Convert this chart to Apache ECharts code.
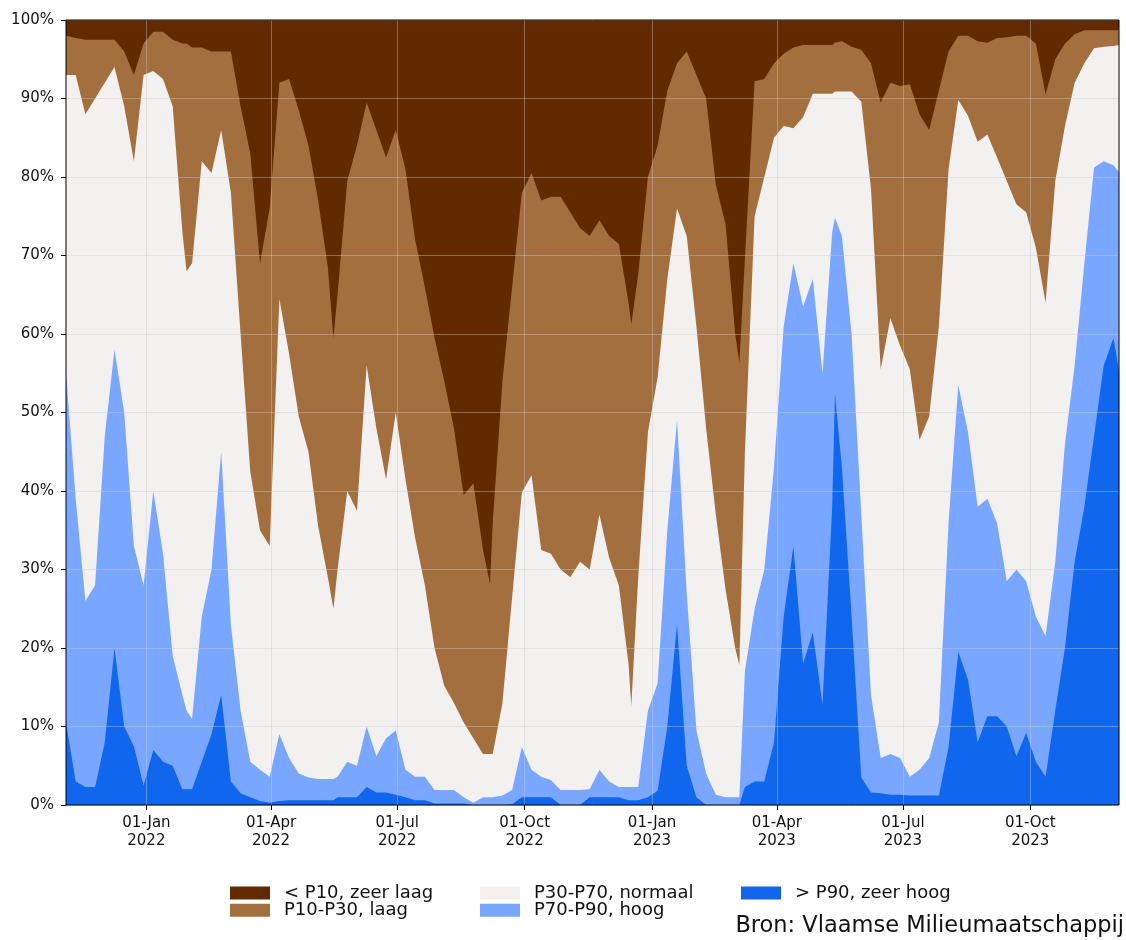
<!DOCTYPE html>
<html>
<head>
<meta charset="utf-8">
<title>Grondwaterstand – klassen</title>
<script src="https://cdn.jsdelivr.net/npm/echarts@6/dist/echarts.min.js"></script>
<style>
  html, body { margin: 0; padding: 0; background: #ffffff; }
  #chart { width: 1126px; height: 940px; }
</style>
</head>
<body>
<div id="chart"></div>
<script>
// Sample dates: weekly, with a few extra days at sharp turning points.
const sampleDates = [
  '2021-11-04', '2021-11-11', '2021-11-18', '2021-11-25', '2021-12-02', '2021-12-09', '2021-12-16', '2021-12-23', '2021-12-30', '2022-01-06',
  '2022-01-13', '2022-01-20', '2022-01-27', '2022-01-30', '2022-02-03', '2022-02-10', '2022-02-17', '2022-02-24', '2022-03-03', '2022-03-10', '2022-03-17',
  '2022-03-24', '2022-03-31', '2022-04-07', '2022-04-14', '2022-04-21', '2022-04-28', '2022-05-05', '2022-05-12', '2022-05-16', '2022-05-19', '2022-05-26',
  '2022-06-02', '2022-06-09', '2022-06-16', '2022-06-23', '2022-06-30', '2022-07-07', '2022-07-14', '2022-07-21', '2022-07-28', '2022-08-04',
  '2022-08-11', '2022-08-18', '2022-08-25', '2022-09-01', '2022-09-06', '2022-09-08', '2022-09-15', '2022-09-22', '2022-09-29', '2022-10-06', '2022-10-13',
  '2022-10-20', '2022-10-27', '2022-11-03', '2022-11-10', '2022-11-17', '2022-11-24', '2022-12-01', '2022-12-08', '2022-12-15', '2022-12-17', '2022-12-22',
  '2022-12-29', '2023-01-05', '2023-01-12', '2023-01-19', '2023-01-26', '2023-02-02', '2023-02-09', '2023-02-16', '2023-02-23', '2023-03-02', '2023-03-05',
  '2023-03-09', '2023-03-16', '2023-03-23', '2023-03-30', '2023-04-06', '2023-04-13', '2023-04-20', '2023-04-27', '2023-05-04', '2023-05-11', '2023-05-13',
  '2023-05-18', '2023-05-25', '2023-06-01', '2023-06-08', '2023-06-15', '2023-06-22', '2023-06-29', '2023-07-06', '2023-07-13', '2023-07-20',
  '2023-07-27', '2023-08-03', '2023-08-10', '2023-08-17', '2023-08-24', '2023-08-31', '2023-09-07', '2023-09-14', '2023-09-21', '2023-09-28',
  '2023-10-05', '2023-10-12', '2023-10-19', '2023-10-26', '2023-11-02', '2023-11-09', '2023-11-16', '2023-11-23', '2023-11-30', '2023-12-04'
];

// Cumulative share of the measuring points (%) up to the top of each class.
// Top of "> P90, zeer hoog"
const zeerHoogTop = [
  10.5, 3, 2.3, 2.3, 8, 20, 10, 7.5, 2.5, 7,
  5.5, 5, 2, 2, 2, 5.5, 9, 14, 3, 1.5, 1,
  0.5, 0.3, 0.5, 0.6, 0.6, 0.6, 0.6, 0.6, 0.6, 1, 1,
  1, 2.3, 1.6, 1.6, 1.3, 1, 0.6, 0.6, 0.2, 0.2,
  0.2, 0.2, 0, 0, 0, 0, 0, 0.1, 1, 1, 1,
  1, 0, 0, 0, 1, 1, 1, 1, 0.6, 0.6, 0.6,
  1, 1.8, 10, 23, 5, 1, 0, 0, 0, 0, 0,
  2.3, 3, 3, 8, 24, 33, 18, 22, 12.8, 38, 52.4,
  43, 24, 3.5, 1.6, 1.5, 1.3, 1.3, 1.2, 1.2, 1.2,
  1.2, 7.4, 19.5, 16, 8, 11.3, 11.3, 10, 6.2, 9.2,
  5.5, 3.6, 12, 20, 31, 38, 47, 56, 59.5, 55.3
];
// Top of "P70-P90, hoog"
const hoogTop = [
  55, 39, 26, 28, 47, 58, 50, 33, 28, 40,
  32, 19, 14, 12, 11, 24, 30, 45, 23, 12, 5.5,
  4.5, 3.6, 9, 6, 4, 3.5, 3.3, 3.3, 3.3, 3.6, 5.5,
  5, 10, 6.2, 8.5, 9.5, 4.5, 3.6, 3.6, 1.9, 1.9,
  1.9, 1, 0.3, 1, 1, 1, 1.2, 1.9, 7.4, 4.5, 3.6,
  3.2, 1.9, 1.9, 1.9, 2, 4.5, 3, 2.3, 2.3, 2.3, 2.3,
  12, 15.5, 35, 49, 27, 9.5, 4, 1.3, 1, 1, 1,
  17, 25, 30, 43, 61, 69, 63.5, 67, 55, 73, 74.8,
  72.5, 60, 37, 14, 6, 6.5, 6, 3.6, 4.5, 6,
  10.5, 36, 53.5, 47.5, 38, 39, 35.9, 28.5, 30, 28.5,
  24, 21.5, 31, 46, 56, 69, 81.2, 82, 81.5, 80.6
];
// Top of "P30-P70, normaal"
const normaalTop = [
  93, 93, 88, 90, 92, 94, 89, 82, 93, 93.5,
  92.5, 89, 73, 68, 69, 82, 80.5, 86, 78, 60, 42.5,
  35, 33, 64.5, 57.5, 49.5, 45, 35.5, 29, 25, 30, 40,
  37.5, 56, 48, 41.5, 50, 41.5, 34, 28, 20, 15.2,
  13, 10.5, 8.5, 6.5, 6.5, 6.5, 13, 26.5, 39.8, 42, 32.5,
  32, 30, 29, 31, 30, 37, 31.5, 28, 18, 12.6, 29,
  47.5, 54.5, 67, 76, 72.5, 61, 48, 37, 27.5, 20, 17.8,
  45, 75, 80, 85, 86.5, 86.2, 87.6, 90.6, 90.6, 90.6, 90.9,
  90.9, 90.9, 89.6, 78.5, 55.5, 62, 58.5, 55.5, 46.5, 49.5,
  61, 81, 89.8, 87.8, 84.5, 85.4, 82.5, 79.5, 76.5, 75.5,
  71, 64, 79.5, 86.5, 92, 94.5, 96.4, 96.6, 96.7, 96.8
];
// Top of "P10-P30, laag" (everything above is "< P10, zeer laag")
const laagTop = [
  98, 97.7, 97.5, 97.5, 97.5, 97.5, 96, 93, 97, 98.5,
  98.5, 97.5, 97, 97, 96.5, 96.5, 96, 96, 96, 89, 83,
  69, 76, 92, 92.5, 88.5, 84, 77, 68.5, 59.5, 65, 79.5,
  84, 89.5, 86, 82.5, 86, 81, 72, 66, 59.5, 54,
  48, 39.5, 41, 32.5, 28.2, 36, 54, 66, 78, 80.5, 77,
  77.5, 77.5, 75.5, 73.5, 72.5, 74.5, 72.5, 71.5, 64, 61.2, 67.6,
  80, 84, 91, 94.5, 96, 93, 90, 79, 74, 60, 56.3,
  69.6, 92.2, 92.5, 94.5, 95.7, 96.5, 96.8, 96.8, 96.8, 96.8, 97.1,
  97.3, 96.6, 96.2, 94.5, 89.5, 92, 91.6, 91.8, 88, 86,
  91, 96, 98, 98, 97.3, 97.1, 97.7, 97.8, 98, 98,
  97, 90.5, 95, 97, 98.2, 98.7, 98.7, 98.7, 98.7, 98.7
];
// Top of the whole column
const fullTop = 100;

const tickDates = ['2022-01-01', '2022-04-01', '2022-07-01', '2022-10-01',
                   '2023-01-01', '2023-04-01', '2023-07-01', '2023-10-01'];
const monthNames = ['Jan', 'Feb', 'Mar', 'Apr', 'May', 'Jun',
                    'Jul', 'Aug', 'Sep', 'Oct', 'Nov', 'Dec'];
const yTicks = { min: 0, max: 100, step: 10 };

const classNames = ['< P10, zeer laag', 'P10-P30, laag', 'P30-P70, normaal',
                    'P70-P90, hoog', '> P90, zeer hoog'];
const classColors = ['#612a00', '#a46f3e', '#f2f1f0', '#79a6ff', '#1166ee'];

// 'YYYY-MM-DD' -> ms since epoch (local time)
function toMs(s) {
  const [y, m, d] = s.split('-').map(Number);
  return new Date(y, m - 1, d).getTime();
}
const dates = sampleDates.map(toMs);
const tickMs = tickDates.map(toMs);

// Areas are painted back to front: each one fills from 0% up to its class top,
// so the next (lower) class covers the part that belongs to it.
const tops = [dates.map(() => fullTop), laagTop, normaalTop, hoogTop, zeerHoogTop];

const gridLine = { color: 'rgba(205,205,205,0.4)', width: 1 };
const textColor = '#111111';
const font = 'DejaVu Sans';

const series = classNames.map((name, k) => ({
  name: name,
  type: 'line',
  data: dates.map((d, i) => [d, tops[k][i]]),
  symbol: 'none',
  showSymbol: false,
  lineStyle: { width: 0 },
  itemStyle: { color: classColors[k] },
  areaStyle: { color: classColors[k], opacity: 1, origin: 'start' },
  emphasis: { disabled: true },
  z: 2
}));

function legendBlock(left, names) {
  return {
    orient: 'vertical',
    left: left,
    top: 884,
    padding: 0,
    itemGap: -0.7,
    itemWidth: 40,
    itemHeight: 13,
    icon: 'rect',
    selectedMode: false,
    data: names,
    textStyle: {
      fontFamily: font, fontSize: 18, lineHeight: 14, color: textColor,
      padding: [0, 0, 0, 9]
    }
  };
}

function dateLabel(v) {
  const d = new Date(v);
  return String(d.getDate()).padStart(2, '0') + '-' + monthNames[d.getMonth()] + '\n' + d.getFullYear();
}

const chart = echarts.init(document.getElementById('chart'), null, { renderer: 'canvas' });
chart.setOption({
  animation: false,
  backgroundColor: '#ffffff',
  textStyle: { fontFamily: font },
  grid: {
    left: 66, top: 20, width: 1053, height: 785,
    show: true, backgroundColor: 'transparent',
    borderColor: '#000000', borderWidth: 1, z: 6
  },
  xAxis: {
    type: 'value',
    min: dates[0],
    max: dates[dates.length - 1],
    z: 4,
    axisLine: { show: false },
    axisTick: { show: true, customValues: tickMs, length: 5, lineStyle: { color: '#000', width: 1 } },
    axisLabel: {
      customValues: tickMs,
      fontFamily: font, fontSize: 15, lineHeight: 18, color: textColor, margin: 9,
      formatter: dateLabel
    },
    splitLine: { show: true, lineStyle: gridLine }
  },
  yAxis: {
    type: 'value',
    min: yTicks.min, max: yTicks.max, interval: yTicks.step,
    z: 4,
    axisLine: { show: false },
    axisTick: { show: true, length: 5, lineStyle: { color: '#000', width: 1 } },
    axisLabel: { formatter: '{value}%', fontFamily: font, fontSize: 15, color: textColor, margin: 12 },
    splitLine: { show: true, lineStyle: gridLine }
  },
  legend: [
    legendBlock(230, [classNames[0], classNames[1]]),
    legendBlock(480, [classNames[2], classNames[3]]),
    legendBlock(741, [classNames[4]])
  ],
  graphic: [{
    type: 'text',
    right: 2,
    top: 915,
    style: { text: 'Bron: Vlaamse Milieumaatschappij', font: '22.5px "DejaVu Sans"', fill: textColor }
  }],
  series: series
});
</script>
</body>
</html>
